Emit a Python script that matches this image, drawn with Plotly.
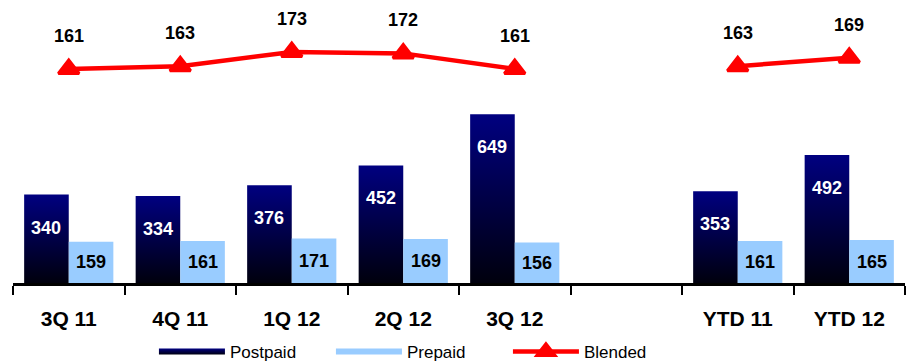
import plotly.graph_objects as go

# Quarterly and year-to-date ARPU figures
periods = ["3Q 11", "4Q 11", "1Q 12", "2Q 12", "3Q 12", "", "YTD 11", "YTD 12"]
postpaid = [340, 334, 376, 452, 649, None, 353, 492]
prepaid = [159, 161, 171, 169, 156, None, 161, 165]
blended = [161, 163, 173, 172, 161, None, 163, 169]

FONT = "Arial, 'Liberation Sans', sans-serif"
NAVY_TOP = "#000080"
NAVY_BOTTOM = "#00000d"
LIGHT_BLUE = "#99CCFF"
RED = "#FF0000"
HALF = 0.4  # width of each bar in category units

fig = go.Figure()

# Postpaid bars: filled rectangles with a vertical navy-to-black gradient
first = True
for i, v in enumerate(postpaid):
    if v is None:
        continue
    fig.add_trace(go.Scatter(
        x=[i - HALF, i - HALF, i, i, i - HALF],
        y=[0, v, v, 0, 0],
        mode="none", fill="toself",
        fillgradient=dict(type="vertical", start=0, stop=v,
                          colorscale=[[0, NAVY_BOTTOM], [1, NAVY_TOP]]),
        name="Postpaid", showlegend=first, hoverinfo="skip",
    ))
    first = False

# Prepaid bars: solid light blue rectangles
first = True
for i, v in enumerate(prepaid):
    if v is None:
        continue
    fig.add_trace(go.Scatter(
        x=[i, i, i + HALF, i + HALF, i],
        y=[0, v, v, 0, 0],
        mode="none", fill="toself", fillcolor=LIGHT_BLUE,
        name="Prepaid", showlegend=first, hoverinfo="skip",
    ))
    first = False

# Blended line on the secondary axis
fig.add_trace(go.Scatter(
    x=list(range(len(periods))), y=blended,
    xaxis="x2", yaxis="y2",
    mode="lines+markers", name="Blended", connectgaps=False,
    line=dict(color=RED, width=4.5),
    marker=dict(symbol="triangle-up", size=18, color=RED,
                line=dict(color=RED, width=3)),
))

annotations = []
for i, v in enumerate(postpaid):
    if v is not None:
        annotations.append(dict(x=i - HALF / 2, y=v, xref="x", yref="y",
                                text=str(v), showarrow=False, yshift=-33,
                                font=dict(family=FONT, size=18, color="white",
                                          weight="bold")))
for i, v in enumerate(prepaid):
    if v is not None:
        annotations.append(dict(x=i + HALF / 2, y=v / 2, xref="x", yref="y",
                                text=str(v), showarrow=False,
                                font=dict(family=FONT, size=18, color="black",
                                          weight="bold")))
for i, v in enumerate(blended):
    if v is not None:
        annotations.append(dict(x=i, y=v, xref="x2", yref="y2",
                                text=str(v), showarrow=False, yshift=33,
                                font=dict(family=FONT, size=18, color="black",
                                          weight="bold")))

xr = [-0.5, len(periods) - 0.5]
fig.update_layout(
    width=906, height=363,
    margin=dict(l=13, r=1, t=0, b=80, autoexpand=False),
    paper_bgcolor="white", plot_bgcolor="white",
    font=dict(family=FONT, color="black"),
    showlegend=True,
    legend=dict(orientation="h", x=0.158, y=-0.244, xanchor="left",
                yanchor="middle", itemwidth=66, entrywidth=96,
                font=dict(family=FONT, size=17, color="black"),
                bgcolor="rgba(0,0,0,0)"),
    annotations=annotations,
    xaxis=dict(range=xr, showgrid=False, zeroline=False,
               showline=True, linecolor="black", linewidth=3,
               tickmode="array",
               tickvals=[k - 0.5 for k in range(len(periods) + 1)],
               ticks="outside", ticklen=9, tickwidth=2, tickcolor="black",
               showticklabels=False),
    xaxis2=dict(range=xr, overlaying="x", anchor="y", side="bottom",
                showgrid=False, zeroline=False, showline=False,
                tickmode="array", tickvals=list(range(len(periods))),
                ticktext=periods, ticks="outside", ticklen=17,
                tickcolor="rgba(0,0,0,0)",
                tickfont=dict(family=FONT, size=21, color="black",
                              weight="bold")),
    yaxis=dict(range=[0, 1088], visible=False, showgrid=False),
    yaxis2=dict(range=[10.3, 209.6], overlaying="y", visible=False,
                showgrid=False),
)

fig.write_html("out.html")
